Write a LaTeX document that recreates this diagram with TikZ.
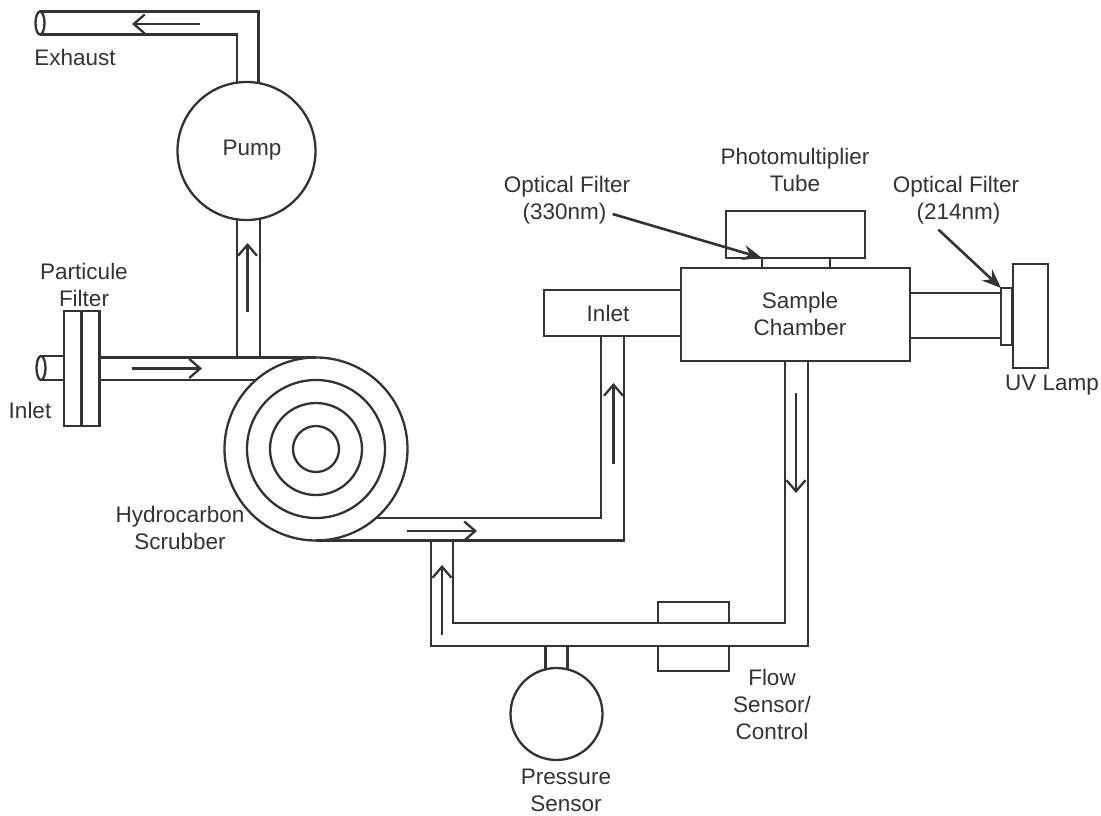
\documentclass[tikz,border=0pt]{standalone}
\usepackage{fontspec}
\setmainfont{Liberation Sans}
\usepackage{tikz}
\usetikzlibrary{arrows.meta,shapes.geometric}
\definecolor{ink}{HTML}{333333}
\tikzset{
    part/.style={draw=ink, line width=2.3pt, inner sep=0pt, outer sep=0pt},
    wall/.style={draw=ink, line width=2.3pt, line join=miter},
    flow/.style={draw=ink, line width=2.3pt, -{Straight Barb[length=11pt,width=19pt,line width=2.3pt]}},
    leader/.style={draw=ink, line width=2.6pt, -{Stealth[length=19pt,width=15pt]}},
    lbl/.style={text=ink, align=center, inner sep=0pt, font=\fontsize{22.5}{27}\selectfont}
}

\begin{document}
\begin{tikzpicture}[x=1pt, y=-1pt]
\useasboundingbox (0,0) rectangle (1101,816);

\node[part, circle, minimum size=138pt] (pump) at (246.5,151) {};
\node[part, circle, minimum size=183pt] (scrub) at (316,449) {};
\node[part, circle, minimum size=138pt] at (scrub) {};
\node[part, circle, minimum size=92pt] at (scrub) {};
\node[part, circle, minimum size=46pt] at (scrub) {};
\node[part, circle, minimum size=92pt] (press) at (556.5,714) {};
\node[part, ellipse, minimum width=9pt, minimum height=23pt] (exend) at (40,23) {};
\node[part, ellipse, minimum width=9pt, minimum height=24pt] (inend) at (41,368) {};
\node[part, minimum width=17.5pt, minimum height=115pt] (pfleft) at (72.75,368.5) {};
\node[part, minimum width=18pt, minimum height=115pt] (pfright) at (90.5,368.5) {};
\node[part, minimum width=229pt, minimum height=93pt] (chamber) at (795.5,314.5) {};
\node[part, minimum width=137pt, minimum height=46pt] (inbox) at (612.5,313) {};
\node[part, minimum width=139pt, minimum height=47pt] (pmt) at (795.5,234.5) {};
\node[part, minimum width=68pt, minimum height=10pt] (stem) at (796,263) {};
\node[part, minimum width=11pt, minimum height=57pt] (uvfilter) at (1006.5,316.5) {};
\node[part, minimum width=35pt, minimum height=104pt] (lamp) at (1030.5,316) {};
\node[part, minimum width=71pt, minimum height=21pt] (flowup) at (693.5,612.5) {};
\node[part, minimum width=71pt, minimum height=25pt] (flowlow) at (693.5,658.5) {};
\coordinate (tee) at (442,541);

\draw[wall] (exend.north) -| (pump.80.4);
\draw[wall] (exend.south) -| (pump.98.7);
\draw[wall] (pump.-98) -- (pump.-98 |- scrub.north);
\draw[wall] (pump.-79) -- (pump.-79 |- scrub.north);
\draw[wall] (inend.north) -- (inend.north -| pfleft.west);
\draw[wall] (inend.south) -- (inend.south -| pfleft.west);
\draw[wall] (pfright.east |- scrub.north) -- (scrub.north);
\draw[wall] (pfright.east |- scrub.131) -- (scrub.131);
\draw[wall] ([xshift=-11.5pt]inbox.south) |- (scrub.-49);
\draw[wall] ([xshift=11.5pt]inbox.south) |- (scrub.south);
\draw[wall] ([xshift=-11pt]tee) |- (flowlow.north) -| ([xshift=12.5pt]chamber.south);
\draw[wall] ([xshift=11pt]tee) |- (flowup.south) -| ([xshift=-10.5pt]chamber.south);
\draw[wall] (press.104) -- (press.104 |- flowlow.north);
\draw[wall] (press.76) -- (press.76 |- flowlow.north);
\draw[wall] (chamber.east |- 0,293) -- (uvfilter.west |- 0,293);
\draw[wall] (chamber.east |- 0,338) -- (uvfilter.west |- 0,338);

\draw[flow] (200,24) -- (132,24);
\draw[flow] (247.5,312) -- (247.5,243);
\draw[flow] (132,368.5) -- (202,368.5);
\draw[flow] (407,531) -- (477,531);
\draw[flow] (613.5,464) -- (613.5,383);
\draw[flow] (796,393) -- (796,493);
\draw[flow] (442,635) -- (442,565);

\node[lbl] (exhaustlbl) at (75,57) {Exhaust};
\node[lbl] (pumplbl) at (252,150) {Pump};
\node[lbl] (pflbl) at (84,284.5) {Particule\\Filter};
\node[lbl] (inletlbl) at (30,410) {Inlet};
\node[lbl] (scrublbl) at (180,528) {Hydrocarbon\\Scrubber};
\node[lbl] (inboxlbl) at (608,313) {Inlet};
\node[lbl] (chamberlbl) at (800,314) {Sample\\Chamber};
\node[lbl] (pmtlbl) at (795,170) {Photomultiplier\\Tube};
\node[lbl] (optalbl) at (567,187) {Optical Filter};
\node[lbl] (optawave) at (564.5,214) {(330nm)};
\node[lbl] (optblbl) at (956,187) {Optical Filter};
\node[lbl] (optbwave) at (958.5,214) {(214nm)};
\node[lbl] (lamplbl) at (1052,385) {UV Lamp};
\node[lbl] (flowlbl) at (772,704) {Flow\\Sensor/\\Control};
\node[lbl] (presslbl) at (566,790) {Pressure\\Sensor};

\draw[leader] ([xshift=6pt]optawave.east) -- (stem.north west);
\draw[leader] ([xshift=-20pt,yshift=-5pt]optbwave.south) -- (uvfilter.north west);
\end{tikzpicture}
\end{document}
